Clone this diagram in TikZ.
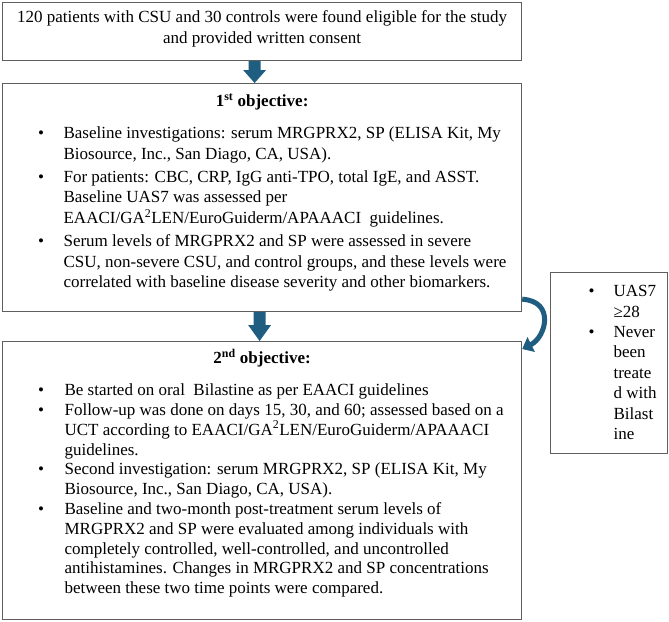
\documentclass[tikz,border=0pt]{standalone}
\usepackage{fontspec}
\setmainfont{Liberation Serif}
\usetikzlibrary{calc,arrows.meta}
\definecolor{arrowc}{RGB}{31,94,128}
\definecolor{boxline}{RGB}{95,95,95}
\newcommand{\boxsetup}[1]{\lineskiplimit=-1000pt\relax\baselineskip=#1\relax\parskip=0pt\relax\parindent=0pt\relax\hbox{}}
\newcommand{\blt}[2]{\par\hangindent=#2\relax\hangafter=1\relax\noindent\hspace*{#1}\makebox[\dimexpr#2-#1\relax][l]{\textbullet}\ignorespaces}
\newcommand{\downblock}[3]{\fill[arrowc] ($(#1)+(-6,0)$) -- ($(#1)+(6,0)$) -- ($(#2)+(6,#3)$) -- ($(#2)+(11.5,#3)$) -- (#2) -- ($(#2)+(-11.5,#3)$) -- ($(#2)+(-6,#3)$) -- cycle;}
\begin{document}
\begin{tikzpicture}[x=1pt,y=1pt,
  mybox/.style={draw=boxline, line width=1.2pt, inner sep=0pt, rectangle, anchor=north west,
    font=\fontsize{17}{20.5}\selectfont, text=black},
  curvearrow/.style={draw=arrowc, line width=5pt, -{Triangle[length=10pt,width=16pt]}}]
\useasboundingbox (0,0) rectangle (669,-621);
\fill[white] (0,0) rectangle (669,-621);

\node[mybox] (top) at (2,-2) {\parbox[t][58pt][t]{519pt}{\boxsetup{21.5pt}\vskip-2pt
\centering 120 patients with CSU and 30 controls were found eligible for the study\\
and provided written consent\par}};

\node[mybox] (b1) at (2,-83) {\parbox[t][228pt][t]{519pt}{\boxsetup{20.5pt}\vskip2.5pt
{\centering\bfseries 1\textsuperscript{st} objective:\par}
\vskip11.5pt
\blt{35.5pt}{61pt}Baseline investigations: serum MRGPRX2, SP (ELISA Kit, My\\
Biosource, Inc., San Diago, CA, USA).\par
\vskip2.75pt
\blt{35.5pt}{61pt}For patients: CBC, CRP, IgG anti-TPO, total IgE, and ASST.\\
Baseline UAS7 was assessed per\\
EAACI/GA\textsuperscript{2}LEN/EuroGuiderm/APAAACI\ \ guidelines.\par
\vskip2.75pt
\blt{35.5pt}{61pt}Serum levels of MRGPRX2 and SP were assessed in severe\\
CSU, non-severe CSU, and control groups, and these levels were\\
correlated with baseline disease severity and other biomarkers.\par}};

\node[mybox] (b2) at (2,-341) {\parbox[t][278pt][t]{519pt}{\boxsetup{19.8pt}\vskip2.2pt
{\centering\bfseries 2\textsuperscript{nd} objective:\par}
\vskip12.2pt
\blt{35.5pt}{62pt}Be started on oral\ \ Bilastine as per EAACI guidelines\par
\blt{35.5pt}{62pt}Follow-up was done on days 15, 30, and 60; assessed based on a\\
UCT according to EAACI/GA\textsuperscript{2}LEN/EuroGuiderm/APAAACI\\
guidelines.\par
\blt{35.5pt}{62pt}Second investigation: serum MRGPRX2, SP (ELISA Kit, My\\
Biosource, Inc., San Diago, CA, USA).\par
\blt{35.5pt}{62pt}Baseline and two-month post-treatment serum levels of\\
MRGPRX2 and SP were evaluated among individuals with\\
completely controlled, well-controlled, and uncontrolled\\
antihistamines. Changes in MRGPRX2 and SP concentrations\\
between these two time points were compared.\par}};

\node[mybox] (rb) at (550,-272) {\parbox[t][181pt][t]{117pt}{\boxsetup{20.4pt}\vskip3.6pt
\blt{38pt}{63pt}UAS7\\
≥28\par
\blt{38pt}{63pt}Never\\
been\\
treate\\
d with\\
Bilast\\
ine\par}};

\coordinate (a1s) at ($(top.south)+(-7.5,0)$);
\coordinate (a1e) at (a1s |- b1.north);
\downblock{a1s}{a1e}{13}
\coordinate (a2s) at ($(b1.south)+(-2.5,0)$);
\coordinate (a2e) at (a2s |- b2.north);
\downblock{a2s}{a2e}{16}

\coordinate (cs) at ($(b1.south east)+(0,13)$);
\coordinate (ce) at ($(b2.north east)+(0,-8)$);
\draw[curvearrow] (cs) .. controls +(33,-2) and +(24,12) .. (ce);
\end{tikzpicture}
\end{document}
